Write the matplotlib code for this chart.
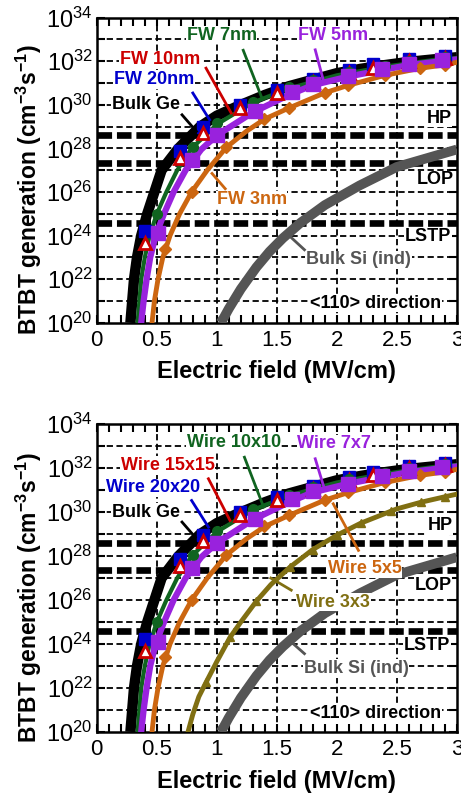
import numpy as np
import matplotlib
matplotlib.use('Agg')
import matplotlib.pyplot as plt

plt.rcParams['font.family'] = ['Liberation Sans', 'DejaVu Sans']
plt.rcParams['mathtext.fontset'] = 'custom'
plt.rcParams['mathtext.rm'] = 'Liberation Sans'
plt.rcParams['mathtext.bf'] = 'Liberation Sans:bold'
plt.rcParams['lines.scale_dashes'] = False

# --- Data: electric field (MV/cm) vs log10 of BTBT generation (cm^-3 s^-1) ---
# Bulk Ge (thick black line)
ge_E = [0.28, 0.295, 0.31, 0.335, 0.37, 0.42, 0.48, 0.54, 0.68, 0.86, 1.0, 1.18,
        1.4, 1.6, 1.8, 2.0, 2.2, 2.4, 2.6, 2.8, 3.0]
ge_G = [20, 21, 22, 23, 24, 25, 26, 27, 28, 29, 29.5, 29.95,
        30.45, 30.85, 31.15, 31.45, 31.65, 31.82, 31.97, 32.08, 32.18]

# Bulk Si indirect (thick gray line)
si_E = [1.03, 1.06, 1.1, 1.2, 1.33, 1.44, 1.55, 1.7, 1.9, 2.19, 2.5, 2.75, 3.0]
si_G = [20.0, 20.25, 20.65, 21.55, 22.55, 23.27, 23.88, 24.6, 25.4, 26.3, 27.15, 27.55, 27.95]

# 20nm / 20x20 (blue squares) and 10nm / 15x15 (red open triangles)
big_E = [0.40, 0.69, 0.885, 1.19, 1.5, 1.8, 2.1, 2.3, 2.6, 2.9]
fw20_G = [24.23, 27.86, 28.98, 30.0, 30.69, 31.19, 31.6, 31.85, 32.1, 32.26]
fw10_G = [23.66, 27.55, 28.7, 29.85, 30.55, 31.05, 31.45, 31.7, 32.0, 32.15]

# 7nm / 10x10 (green line + circles)
fw7_E = [0.34, 0.355, 0.37, 0.40, 0.44, 0.50, 0.58, 0.67, 0.79, 1.0, 1.3, 1.6,
         2.0, 2.4, 2.8, 3.0]
fw7_G = [20, 21, 22, 23, 24, 25, 26, 27, 28, 29.1, 30.1, 30.75,
         31.35, 31.75, 32.05, 32.15]
fw7_mE = [0.5, 0.8, 1.0, 1.3, 1.6, 1.8, 2.1, 2.4, 2.6, 2.9]
fw7_mG = [25.0, 28.05, 29.15, 30.15, 30.8, 31.15, 31.5, 31.8, 32.0, 32.2]

# 5nm / 7x7 (purple line + squares)
fw5_E = [0.37, 0.39, 0.415, 0.445, 0.49, 0.56, 0.64, 0.74, 0.87, 1.0, 1.3, 1.6,
         1.8, 2.1, 2.4, 2.6, 2.9, 3.0]
fw5_G = [20, 21, 22, 23, 24, 25, 26, 27, 27.95, 28.6, 29.65, 30.45,
         30.9, 31.3, 31.62, 31.82, 32.02, 32.08]
fw5_mE = [0.51, 0.79, 1.0, 1.32, 1.63, 1.8, 2.09, 2.38, 2.6, 2.88]
fw5_mG = [24.1, 27.45, 28.6, 29.7, 30.6, 30.95, 31.3, 31.65, 31.88, 32.05]

# 3nm / 5x5 (orange line + diamonds)
fw3_E = [0.46, 0.48, 0.51, 0.55, 0.61, 0.69, 0.79, 0.92, 1.08, 1.25, 1.4, 1.6,
         1.9, 2.1, 2.4, 2.7, 2.9, 3.0]
fw3_G = [20, 21, 22, 23, 24, 25, 26, 27, 28.05, 28.8, 29.35, 29.85,
         30.55, 30.9, 31.35, 31.68, 31.83, 31.95]
fw3_mE = [0.57, 0.79, 1.08, 1.39, 1.6, 1.9, 2.09, 2.4, 2.69, 2.9]
fw3_mG = [23.4, 26.0, 28.05, 29.35, 29.85, 30.55, 30.9, 31.35, 31.68, 31.83]

# Wire 3x3 (olive line + triangles), bottom panel only
w3_E = [0.76, 0.8, 0.85, 0.91, 1.0, 1.11, 1.2, 1.33, 1.45, 1.61, 1.8, 2.0,
        2.2, 2.5, 2.7, 2.9, 3.0]
w3_G = [20.0, 20.8, 21.6, 22.25, 23.2, 24.3, 25.0, 25.95, 26.7, 27.5, 28.3, 28.95,
        29.5, 30.15, 30.45, 30.7, 30.82]
w3_mE = [0.91, 1.11, 1.33, 1.61, 1.8, 2.0, 2.2, 2.45, 2.7, 2.9]
w3_mG = [22.25, 24.3, 25.95, 27.5, 28.3, 28.95, 29.5, 30.05, 30.45, 30.7]

# Target levels (log10)
ref_names = ['HP', 'LOP', 'LSTP']
ref_G = [28.6, 27.35, 24.6]

BLACK = '#000000'
BLUE = '#0000cc'
RED = '#cc0000'
GREEN = '#106420'
PURPLE = '#9922dd'
ORANGE = '#cc6610'
OLIVE = '#806f12'
GRAY = '#555555'


def p(vals):
    return 10.0 ** np.array(vals)


def draw_panel(ax, labels, wire3=False):
    # grid + axes styling
    for v in np.arange(0.5, 3.0, 0.5):
        ax.axvline(v, color='k', lw=1.3, dashes=(4.5, 2.5), zorder=1)
    for d in range(21, 34):
        ax.axhline(10.0 ** d, color='k', lw=1.3, dashes=(4.5, 2.5), zorder=1)
    for g in ref_G:
        ax.axhline(10.0 ** g, color='k', lw=4.8, dashes=(10.5, 3.5), zorder=2)

    ax.plot(si_E, p(si_G), color=GRAY, lw=7, solid_capstyle='butt', zorder=3)
    if wire3:
        ax.plot(w3_E, p(w3_G), color=OLIVE, lw=3.5, zorder=3)
        ax.plot(w3_mE, p(w3_mG), ls='none', marker='^', ms=6, color=OLIVE, zorder=3)
    ax.plot(ge_E, p(ge_G), color=BLACK, lw=7.5, solid_capstyle='butt', zorder=4)
    ax.plot(fw7_E, p(fw7_G), color=GREEN, lw=3, zorder=5)
    ax.plot(fw5_E, p(fw5_G), color=PURPLE, lw=4.5, zorder=5)
    ax.plot(fw3_E, p(fw3_G), color=ORANGE, lw=3.5, zorder=5)
    ax.plot(fw3_mE, p(fw3_mG), ls='none', marker='D', ms=6, color=ORANGE, zorder=5)
    ax.plot(big_E, p(fw20_G), ls='none', marker='s', ms=9, color=BLUE, zorder=6)
    ax.plot(big_E, p(fw10_G), ls='none', marker='^', ms=8, mfc='white', mec=RED,
            mew=2, zorder=7)
    ax.plot(fw7_mE, p(fw7_mG), ls='none', marker='o', ms=7, color=GREEN, zorder=7)
    ax.plot(fw5_mE, p(fw5_mG), ls='none', marker='s', ms=9.5, color=PURPLE, zorder=8)

    # annotations with leader lines
    box = dict(facecolor='white', edgecolor='none', pad=0.5)
    for txt, color, tx, ty, line in labels:
        ax.text(tx, 10.0 ** ty, txt, color=color, fontsize=13, fontweight='bold',
                ha='center', va='center', bbox=box, zorder=10)
        if line is not None:
            (x0, y0), (x1, y1) = line
            ax.plot([x0, x1], [10.0 ** y0, 10.0 ** y1], color=color, lw=2, zorder=9)

    ax.set_yscale('log')
    ax.set_xlim(0, 3)
    ax.set_ylim(1e20, 1e34)
    ax.set_yticks([10.0 ** d for d in range(20, 35)])
    ax.set_yticklabels([r'$\mathregular{10^{%d}}$' % d if d % 2 == 0 else ''
                        for d in range(20, 35)])
    ax.yaxis.set_minor_locator(matplotlib.ticker.NullLocator())
    ax.set_xticks(np.arange(0, 3.01, 0.5))
    ax.set_xticklabels(['0', '0.5', '1', '1.5', '2', '2.5', '3'])
    ax.set_xticks(np.arange(0, 3.01, 0.1), minor=True)
    ax.tick_params(axis='both', which='both', direction='in', top=True, right=True,
                   width=1.5, length=6)
    ax.tick_params(axis='y', labelsize=17, pad=3)
    ax.tick_params(axis='x', labelsize=16, pad=5)
    for s in ax.spines.values():
        s.set_linewidth(1.8)
    ax.set_xlabel('Electric field (MV/cm)', fontsize=17, fontweight='bold',
                  va='center')
    ax.set_ylabel(r'BTBT generation (cm$^{\mathbf{-3}}$s$^{\mathbf{-1}}$)',
                  fontsize=16.5, fontweight='bold', va='center')
    ax.xaxis.set_label_coords(0.5, -0.16)
    ax.yaxis.set_label_coords(-0.19, 0.435)


fig = plt.figure(figsize=(4.61, 7.99), dpi=100)
ax1 = fig.add_axes([0.210, 0.596, 0.781, 0.382])
ax2 = fig.add_axes([0.210, 0.084, 0.781, 0.385])

top_labels = [
    ('FW 7nm', GREEN, 1.04, 33.2, ((1.22, 32.5), (1.38, 30.25))),
    ('FW 10nm', RED, 0.525, 32.06, ((0.91, 31.68), (1.12, 29.62))),
    ('FW 20nm', BLUE, 0.48, 31.15, ((0.80, 30.54), (0.94, 29.31))),
    ('Bulk Ge', BLACK, 0.41, 30.0, ((0.71, 29.54), (0.83, 28.78))),
    ('FW 5nm', PURPLE, 1.97, 33.2, ((1.82, 32.52), (1.89, 31.07))),
    ('FW 3nm', ORANGE, 1.29, 25.64, ((1.07, 26.15), (0.96, 26.85))),
    ('Bulk Si (ind)', GRAY, 2.18, 22.89, ((1.73, 23.35), (1.61, 23.96))),
    ('HP', BLACK, 2.85, 29.39, None),
    ('LOP', BLACK, 2.82, 26.56, None),
    ('LSTP', BLACK, 2.76, 23.96, None),
    ('<110> direction', BLACK, 2.32, 20.9, None),
]
bottom_labels = [
    ('Wire 10x10', GREEN, 1.14, 33.18, ((1.23, 32.5), (1.39, 30.23))),
    ('Wire 15x15', RED, 0.59, 32.12, ((0.93, 31.52), (1.11, 29.62))),
    ('Wire 20x20', BLUE, 0.47, 31.11, ((0.79, 30.53), (0.93, 29.32))),
    ('Bulk Ge', BLACK, 0.41, 30.0, ((0.71, 29.55), (0.82, 28.86))),
    ('Wire 7x7', PURPLE, 1.98, 33.11, ((1.82, 32.43), (1.9, 31.0))),
    ('Wire 5x5', ORANGE, 2.23, 27.43, ((1.97, 30.38), (2.18, 28.26))),
    ('Wire 3x3', OLIVE, 1.97, 25.91, ((1.45, 27.0), (1.62, 26.45))),
    ('Bulk Si (ind)', GRAY, 2.16, 22.88, ((1.73, 23.56), (1.62, 24.09))),
    ('HP', BLACK, 2.86, 29.4, None),
    ('LOP', BLACK, 2.80, 26.67, None),
    ('LSTP', BLACK, 2.75, 23.94, None),
    ('<110> direction', BLACK, 2.32, 20.84, None),
]

draw_panel(ax1, top_labels)
draw_panel(ax2, bottom_labels, wire3=True)

fig.savefig('out.png', dpi=100)
